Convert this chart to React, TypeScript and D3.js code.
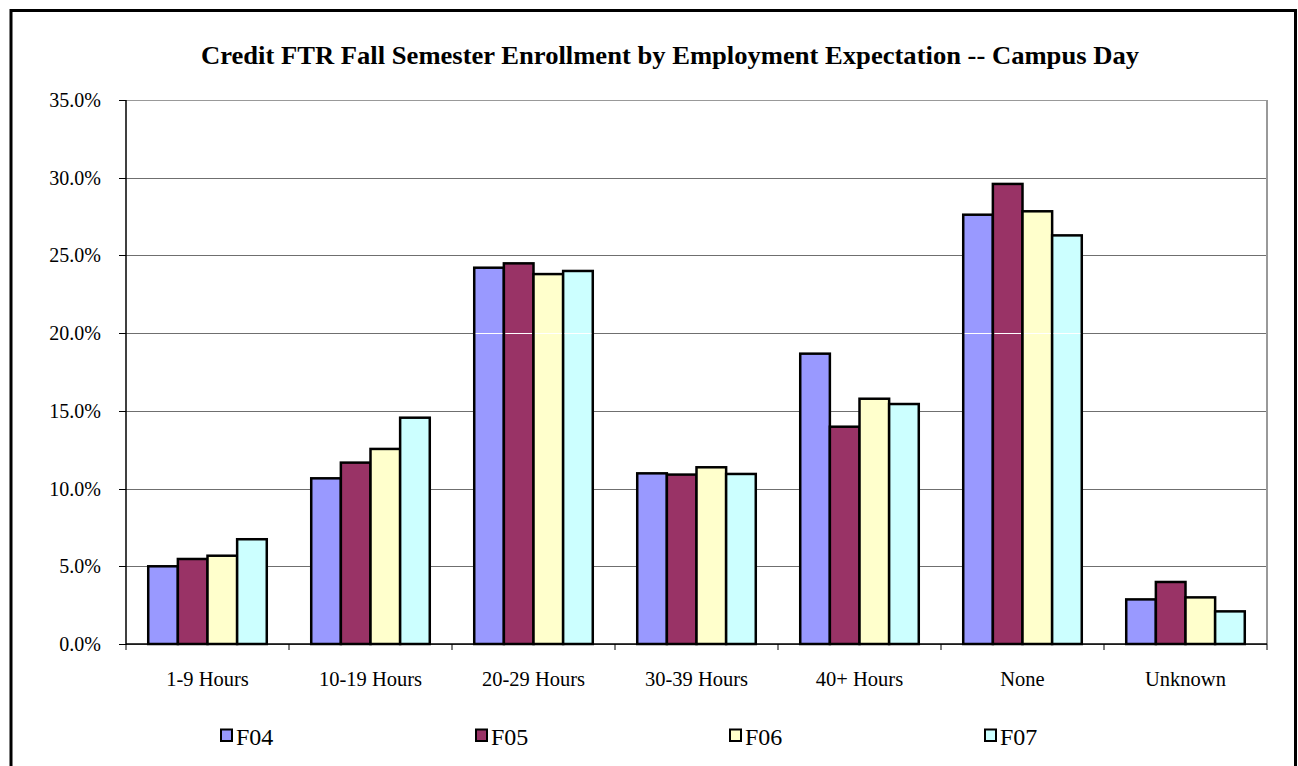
import React from "react";
import * as d3 from "d3";

const categories = ["1-9 Hours", "10-19 Hours", "20-29 Hours", "30-39 Hours", "40+ Hours", "None", "Unknown"];
const seriesNames = ["F04", "F05", "F06", "F07"];
const seriesColors = ["#9999FF", "#993366", "#FFFFCC", "#CCFFFF"];
const F04 = [5.0, 10.66, 24.21, 10.98, 18.68, 27.62, 2.87];
const F05 = [5.47, 11.67, 24.49, 10.9, 13.98, 29.6, 3.99];
const F06 = [5.68, 12.55, 23.8, 11.37, 15.78, 27.84, 3.0];
const F07 = [6.74, 14.56, 24.0, 10.94, 15.44, 26.29, 2.1];
const seriesValues = [F04, F05, F06, F07];
const yTicks = [0, 5, 10, 15, 20, 25, 30, 35];
const title = "Credit FTR Fall Semester Enrollment by Employment Expectation -- Campus Day";

const W = 1298;
const H = 766;
const plot = { left: 126, right: 1267, top: 100, bottom: 644 };
const FONT = "'Liberation Serif', 'Times New Roman', serif";

export default function App() {
  const x0 = d3.scaleBand<string>().domain(categories).range([plot.left, plot.right]).padding(0);
  const x1 = d3
    .scaleBand<string>()
    .domain(seriesNames)
    .range([0, x0.bandwidth()])
    .paddingInner(0)
    .paddingOuter(0.75);
  const y = d3.scaleLinear().domain([0, 35]).range([plot.bottom, plot.top]);
  const boundaries = categories.map((c) => x0(c) as number).concat([plot.right]);

  const legendX = [220, 475, 729, 984];

  return (
    <svg
      width={W}
      height={H}
      style={{ position: "absolute", left: 0, top: 0, background: "#fff" }}
      fontFamily={FONT}
    >
      <rect x={0} y={0} width={W} height={H} fill="#fff" />
      <rect x={11} y={10.5} width={1284.5} height={770} fill="none" stroke="#000" strokeWidth={3} />
      <text
        x={670}
        y={63.5}
        textAnchor="middle"
        fontSize={25}
        fontWeight="bold"
        textLength={938}
        lengthAdjust="spacingAndGlyphs"
      >
        {title}
      </text>

      {yTicks.map((t) => (
        <g key={t}>
          <line
            x1={plot.left}
            x2={plot.right}
            y1={Math.round(y(t)) + 0.5}
            y2={Math.round(y(t)) + 0.5}
            stroke={t === 35 ? "#999" : "#6f6f6f"}
            strokeWidth={1}
          />
          <line x1={119} x2={plot.left} y1={Math.round(y(t)) + 0.5} y2={Math.round(y(t)) + 0.5} stroke="#000" />
          <text x={101} y={y(t)} dy="0.35em" textAnchor="end" fontSize={20}>
            {t.toFixed(1) + "%"}
          </text>
        </g>
      ))}

      <line x1={plot.right} x2={plot.right} y1={plot.top} y2={plot.bottom} stroke="#999" strokeWidth={2} />

      {categories.map((c, ci) => (
        <g key={c}>
          {seriesNames.map((s, si) => {
            const v = seriesValues[si][ci];
            const bx = (x0(c) as number) + (x1(s) as number);
            return (
              <rect
                key={s}
                x={bx}
                y={y(v)}
                width={x1.bandwidth()}
                height={y(0) - y(v)}
                fill={seriesColors[si]}
                stroke="#000"
                strokeWidth={2.5}
              />
            );
          })}
          {seriesNames.map((s, si) => {
            const v = seriesValues[si][ci];
            if (v <= 20.5) return null;
            const bx = (x0(c) as number) + (x1(s) as number);
            return (
              <line
                key={"w" + s}
                x1={bx + 1.5}
                x2={bx + x1.bandwidth() - 1.5}
                y1={Math.round(y(20)) + 0.5}
                y2={Math.round(y(20)) + 0.5}
                stroke="#fff"
                strokeWidth={1}
              />
            );
          })}
          <text x={(x0(c) as number) + x0.bandwidth() / 2} y={686} textAnchor="middle" fontSize={20.5}>
            {c}
          </text>
        </g>
      ))}

      <line x1={plot.left} x2={plot.left} y1={plot.top} y2={plot.bottom + 1} stroke="#000" strokeWidth={1.5} />
      <line x1={plot.left} x2={plot.right} y1={plot.bottom} y2={plot.bottom} stroke="#000" strokeWidth={1.5} />
      {boundaries.map((bx, i) => (
        <line key={i} x1={bx} x2={bx} y1={plot.bottom} y2={plot.bottom + 6} stroke="#000" strokeWidth={1} />
      ))}

      {seriesNames.map((s, si) => (
        <g key={s}>
          <rect
            x={legendX[si] + 1}
            y={729.5}
            width={11}
            height={11.5}
            fill={seriesColors[si]}
            stroke="#000"
            strokeWidth={2}
          />
          <text x={legendX[si] + 16} y={745} fontSize={24}>
            {s}
          </text>
        </g>
      ))}
    </svg>
  );
}
